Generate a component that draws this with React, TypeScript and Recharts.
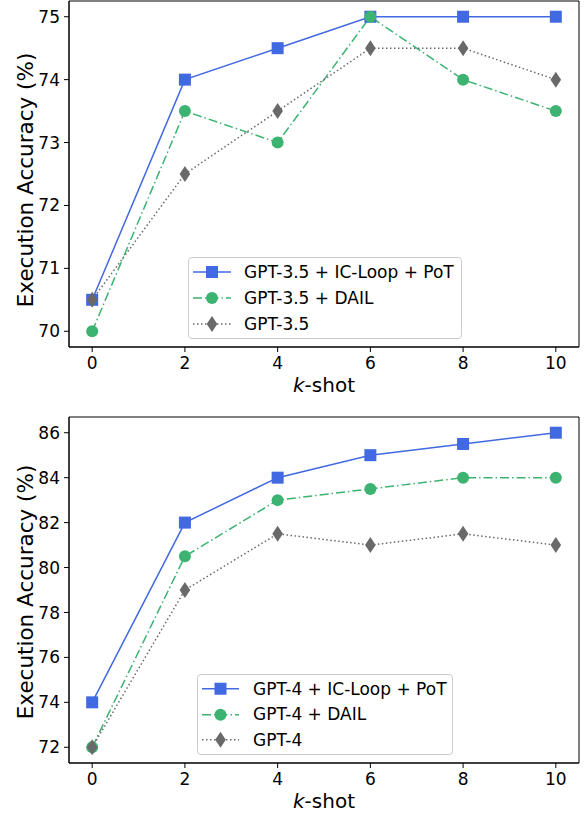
// Execution accuracy vs k-shot, GPT-3.5 (top) and GPT-4 (bottom)
import { LineChart, Line, XAxis, YAxis, Legend, ReferenceArea } from 'recharts';

const kShots = [0, 2, 4, 6, 8, 10];

// top panel
const gpt35Loop = [70.5, 74, 74.5, 75, 75, 75];
const gpt35Dail = [70, 73.5, 73, 75, 74, 73.5];
const gpt35Base = [70.5, 72.5, 73.5, 74.5, 74.5, 74];
const topNames = ['GPT-3.5 + IC-Loop + PoT', 'GPT-3.5 + DAIL', 'GPT-3.5'];
const topYTicks = [70, 71, 72, 73, 74, 75];

// bottom panel
const gpt4Loop = [74, 82, 84, 85, 85.5, 86];
const gpt4Dail = [72, 80.5, 83, 83.5, 84, 84];
const gpt4Base = [72, 79, 81.5, 81, 81.5, 81];
const bottomNames = ['GPT-4 + IC-Loop + PoT', 'GPT-4 + DAIL', 'GPT-4'];
const bottomYTicks = [72, 74, 76, 78, 80, 82, 84, 86];

const xTicks = [0, 2, 4, 6, 8, 10];

const SERIES = [
  { key: 'loop', color: '#4169e1', dash: undefined, marker: 'square' },
  { key: 'dail', color: '#3cb371', dash: '9 3 1.5 3', marker: 'circle' },
  { key: 'base', color: '#696969', dash: '1.5 2.5', marker: 'diamond' },
];

function Marker({ type, cx, cy, color }: { type: string; cx: number; cy: number; color: string }) {
  if (type === 'square') return <rect x={cx - 6} y={cy - 6} width={12} height={12} fill={color} />;
  if (type === 'circle') return <circle cx={cx} cy={cy} r={6} fill={color} />;
  return (
    <polygon
      points={`${cx},${cy - 8} ${cx + 5.3},${cy} ${cx},${cy + 8} ${cx - 5.3},${cy}`}
      fill={color}
    />
  );
}

function XLabel({ viewBox }: any) {
  if (!viewBox) return null;
  const cx = viewBox.x + viewBox.width / 2;
  return (
    <text x={cx} y={viewBox.y + 44.5} textAnchor="middle" fontSize={20} fill="#000">
      <tspan fontStyle="italic">k</tspan>-shot
    </text>
  );
}

function YLabel({ viewBox, shift = 0 }: any) {
  if (!viewBox) return null;
  const cx = viewBox.x + 16.5;
  const cy = viewBox.y + viewBox.height / 2 + shift;
  return (
    <text
      x={0}
      y={7.6}
      transform={`translate(${cx}, ${cy}) rotate(-90)`}
      textAnchor="middle"
      fontSize={21.5}
      fill="#000"
    >
      Execution Accuracy (%)
    </text>
  );
}

function LegendBox({ names, width, rowH, sampleEnd }: { names: string[]; width: number; rowH: number; sampleEnd: number }) {
  return (
    <div
      style={{
        width,
        boxSizing: 'border-box',
        border: '1px solid #cccccc',
        borderRadius: 4,
        background: 'rgba(255,255,255,0.8)',
        padding: '1px 0 1px 0',
      }}
    >
      {SERIES.map((s, i) => (
        <div key={s.key} style={{ display: 'flex', alignItems: 'center', height: rowH }}>
          <svg width={55} height={rowH} style={{ flexShrink: 0 }}>
            <line x1={4} x2={sampleEnd} y1={rowH / 2} y2={rowH / 2} stroke={s.color} strokeWidth={1.5} strokeDasharray={s.dash} />
            <Marker type={s.marker} cx={(4 + sampleEnd) / 2} cy={rowH / 2} color={s.color} />
          </svg>
          <span style={{ fontSize: 17, color: '#000', whiteSpace: 'nowrap' }}>{names[i]}</span>
        </div>
      ))}
    </div>
  );
}

interface PanelProps {
  loop: number[];
  dail: number[];
  base: number[];
  names: string[];
  yDomain: [number, number];
  yTicks: number[];
  labelShift: number;
  legendPos: { left: number; top: number; width: number; rowH: number; sampleEnd: number };
}

function Panel({ loop, dail, base, names, yDomain, yTicks, labelShift, legendPos }: PanelProps) {
  const data = kShots.map((k, i) => ({ k, loop: loop[i], dail: dail[i], base: base[i] }));
  return (
    <LineChart width={584} height={400} data={data} margin={{ top: 1, right: 5, bottom: 3, left: 9 }}>
      <XAxis
        dataKey="k"
        type="number"
        domain={[-0.5, 10.5]}
        allowDataOverflow
        ticks={xTicks}
        height={50}
        tickSize={5}
        tickMargin={5}
        stroke="#000"
        tick={{ fill: '#000', fontSize: 17 }}
        label={<XLabel />}
      />
      <YAxis
        type="number"
        domain={yDomain}
        allowDataOverflow
        ticks={yTicks}
        width={60}
        tickSize={5}
        tickMargin={4}
        stroke="#000"
        tick={{ fill: '#000', fontSize: 17 }}
        label={<YLabel shift={labelShift} />}
      />
      <ReferenceArea x1={-0.5} x2={10.5} y1={yDomain[0]} y2={yDomain[1]} fill="none" stroke="#000" strokeWidth={1} />
      {SERIES.map((s) => (
        <Line
          key={s.key}
          dataKey={s.key}
          stroke={s.color}
          strokeWidth={1.5}
          strokeDasharray={s.dash}
          isAnimationActive={false}
          activeDot={false}
          dot={(p: any) => <Marker key={`${s.key}-${p.index}`} type={s.marker} cx={p.cx} cy={p.cy} color={s.color} />}
        />
      ))}
      <Legend
        layout="vertical"
        align="center"
        verticalAlign="middle"
        wrapperStyle={{ left: legendPos.left, top: legendPos.top, width: legendPos.width }}
        content={() => (
          <LegendBox names={names} width={legendPos.width} rowH={legendPos.rowH} sampleEnd={legendPos.sampleEnd} />
        )}
      />
    </LineChart>
  );
}

export default function App() {
  return (
    <div
      style={{
        position: 'absolute',
        left: 0,
        top: 0,
        width: 584,
        height: 814,
        background: '#fff',
        fontFamily: '"DejaVu Sans", sans-serif',
        overflow: 'hidden',
      }}
    >
      <div style={{ position: 'absolute', left: 0, top: 0 }}>
        <Panel
          loop={gpt35Loop}
          dail={gpt35Dail}
          base={gpt35Base}
          names={topNames}
          yDomain={[69.75, 75.25]}
          yTicks={topYTicks}
          labelShift={6}
          legendPos={{ left: 188, top: 257, width: 274, rowH: 26, sampleEnd: 42 }}
        />
      </div>
      <div style={{ position: 'absolute', left: 0, top: 415.5 }}>
        <Panel
          loop={gpt4Loop}
          dail={gpt4Dail}
          base={gpt4Base}
          names={bottomNames}
          yDomain={[71.3, 86.7]}
          yTicks={bottomYTicks}
          labelShift={2}
          legendPos={{ left: 197, top: 258.5, width: 256, rowH: 25.5, sampleEnd: 41 }}
        />
      </div>
    </div>
  );
}
